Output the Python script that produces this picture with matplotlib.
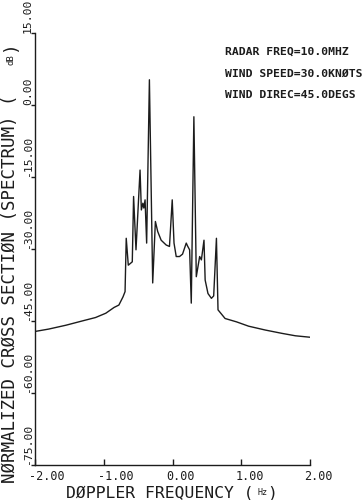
import matplotlib.pyplot as plt
from matplotlib.transforms import ScaledTranslation

# doppler spectrum
freq = [-2.00, -1.80, -1.55, -1.31, -1.12, -0.97, -0.85, -0.78, -0.72, -0.69,
        -0.673, -0.643, -0.585, -0.566, -0.531, -0.472, -0.453, -0.431, -0.417,
        -0.399, -0.376, -0.336, -0.288, -0.249, -0.215, -0.165, -0.092, -0.044,
        -0.004, 0.022, 0.054, 0.102, 0.146, 0.200, 0.219, 0.249, 0.273, 0.311,
        0.346, 0.395, 0.420, 0.458, 0.475, 0.516, 0.566, 0.599, 0.639, 0.662,
        0.765, 0.931, 1.107, 1.349, 1.594, 1.788, 2.00]
level = [-47.2, -46.7, -45.9, -45.0, -44.3, -43.4, -42.2, -41.7, -40.0, -38.9,
         -27.8, -33.4, -32.7, -19.1, -30.2, -13.6, -21.9, -20.5, -21.5,
         -19.8, -28.8, 5.2, -37.1, -24.3, -26.4, -28.2, -29.2, -29.5,
         -19.8, -28.8, -31.6, -31.6, -31.1, -28.8, -29.4, -30.2, -41.3, -2.5,
         -35.8, -31.6, -32.3, -28.2, -36.5, -39.3, -40.3, -39.8, -27.8, -42.7,
         -44.5, -45.2, -46.1, -46.9, -47.6, -48.1, -48.4]

xticks = [-2, -1, 0, 1, 2]
yticks = [15, 0, -15, -30, -45, -60, -75]
notes = ["RADAR FREQ=10.0MHZ", "WIND SPEED=30.0KNØTS", "WIND DIREC=45.0DEGS"]

ink = "#1c1c1c"
mono = "DejaVu Sans Mono"
plt.rcParams["font.family"] = mono

fig = plt.figure(figsize=(3.64, 5.0), dpi=100)
ax = fig.add_axes([35 / 364, 35 / 500, 275 / 364, 432.3 / 500])

ax.plot(freq, level, color=ink, lw=1.0)

ax.set_xlim(-2, 2)
ax.set_ylim(-75, 15)
for s in ["top", "right"]:
    ax.spines[s].set_visible(False)
for s in ["left", "bottom"]:
    ax.spines[s].set_color(ink)
    ax.spines[s].set_linewidth(1.0)

ax.set_xticks(xticks)
ax.set_xticklabels([f"{v:.2f}" for v in xticks])
ax.set_yticks(yticks)
ax.set_yticklabels([f"{v:.2f}" for v in yticks])
ax.tick_params(axis="x", direction="in", length=4, width=1, color=ink,
               labelsize=8.5, labelcolor=ink, pad=3.5)
ax.tick_params(axis="y", direction="out", length=3, width=1, color=ink,
               labelsize=8.2, labelcolor=ink, pad=-1.6, labelrotation=90)

shift = ScaledTranslation(-6 / 100, 0, fig.dpi_scale_trans)
for lab in ax.get_xticklabels():
    lab.set_ha("left")
    lab.set_transform(lab.get_transform() + shift)
for lab in ax.get_yticklabels():
    lab.set_va("bottom")

# parameter block, upper right
for i, t in enumerate(notes):
    fig.text(225 / 364, 1 - (52 + 21.5 * i) / 500, t, ha="left", va="center",
             fontsize=8.2, fontweight="bold", color=ink)

# axis titles drawn in pieces so the units come out small
fig.text(66 / 364, 1 - 492.5 / 500, "DØPPLER FREQUENCY (", ha="left",
         va="center", fontsize=11.8, color=ink)
fig.text(263 / 364, 1 - 492.5 / 500, "Hz", ha="center", va="center",
         fontsize=6, color=ink)
fig.text(272 / 364, 1 - 492.5 / 500, ")", ha="center", va="center",
         fontsize=11.8, color=ink)

fig.text(9.8 / 364, 1 - 483 / 500, "NØRMALIZED CRØSS SECTIØN (SPECTRUM) (",
         rotation=90, ha="center", va="bottom", fontsize=12.6, color=ink)
fig.text(11 / 364, 1 - 60 / 500, "dB", rotation=90, ha="center", va="center",
         fontsize=6.5, color=ink)
fig.text(9.8 / 364, 1 - 46 / 500, ")", rotation=90, ha="center", va="center",
         fontsize=12.6, color=ink)

fig.savefig("out.png", dpi=100)
